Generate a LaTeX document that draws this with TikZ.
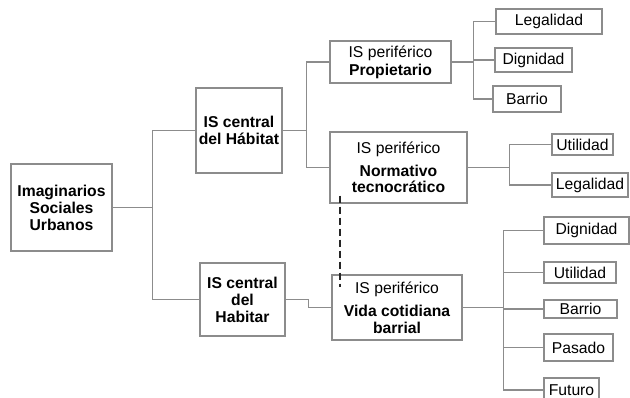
\documentclass[tikz,border=0pt]{standalone}
\usepackage{fontspec}
\setmainfont{Liberation Sans}
\begin{document}
\begin{tikzpicture}[x=1pt,y=-1pt,
  box/.style={draw=black!45, line width=1.2pt, fill=white, inner sep=0pt, align=center,
    font=\fontsize{15.7}{17}\selectfont},
  link/.style={draw=black!45, line width=1.2pt},
  dashlink/.style={draw=black!85, line width=2pt, dash pattern=on 7pt off 4pt}]
\clip (0,0) rectangle (630,398);
\fill[white] (0,0) rectangle (630,398);
% main boxes
\node[box, minimum width=101pt, minimum height=87pt] (root) at (61.5,207.5) {\bfseries Imaginarios\\\bfseries Sociales\\\bfseries Urbanos};
\node[box, minimum width=86pt, minimum height=85pt] (hab) at (239,130.5) {\bfseries IS central\\\bfseries del Hábitat};
\node[box, minimum width=85pt, minimum height=73pt] (hbr) at (242.5,299.5) {\bfseries IS central\\\bfseries del\\\bfseries Habitar};
\node[box, minimum width=121pt, minimum height=42pt] (prop) at (390.5,62) {IS periférico\\[1pt]\bfseries Propietario};
\node[box, minimum width=137pt, minimum height=71pt] (norm) at (398.5,167.5) {IS periférico\\[6pt]\bfseries Normativo\\[-1pt]\bfseries tecnocrático};
\node[box, minimum width=130pt, minimum height=65pt] (vida) at (397,307.5) {IS periférico\\[6pt]\bfseries Vida cotidiana\\[0pt]\bfseries barrial};
% leaves
\node[box, minimum width=106pt, minimum height=25pt] (l1) at (549,21.5) {Legalidad};
\node[box, minimum width=77pt, minimum height=24pt] (d1) at (533.5,60) {Dignidad};
\node[box, minimum width=68pt, minimum height=26pt] (b1) at (527,99) {Barrio};
\node[box, minimum width=61pt, minimum height=21pt] (u2) at (582.5,144.5) {Utilidad};
\node[box, minimum width=76pt, minimum height=24pt] (l2) at (590,185) {Legalidad};
\node[box, minimum width=85pt, minimum height=27pt] (d3) at (586.5,230.5) {Dignidad};
\node[box, minimum width=72pt, minimum height=21pt] (u3) at (580,272.5) {Utilidad};
\node[box, minimum width=73pt, minimum height=18pt] (b3) at (580.5,309) {Barrio};
\node[box, minimum width=69pt, minimum height=27pt] (p3) at (578.5,347.5) {Pasado};
\node[box, minimum width=55pt, minimum height=24pt] (f3) at (571.5,390) {Futuro};
% connectors
\draw[link] (root.east) -- ++(40,0) |- (hab.west);
\draw[link] (root.east) -- ++(40,0) |- (hbr.west);
\draw[link] (hab.east) -- ++(24,0) |- (prop.west);
\draw[link] (hab.east) -- ++(24,0) |- (norm.west);
\draw[link] (hbr.east) -- ++(23,0) |- (vida.west);
\foreach \t in {l1,d1,b1} \draw[link] (prop.east) -- ++(22,0) |- (\t.west);
\foreach \t in {u2,l2} \draw[link] (norm.east) -- ++(42,0) |- (\t.west);
\foreach \t in {d3,u3,b3,p3,f3} \draw[link] (vida.east) -- ++(41,0) |- (\t.west);
\draw[dashlink] ([xshift=11pt,yshift=8pt]norm.south west) -- ([xshift=9pt,yshift=-13pt]vida.north west);
\end{tikzpicture}
\end{document}
